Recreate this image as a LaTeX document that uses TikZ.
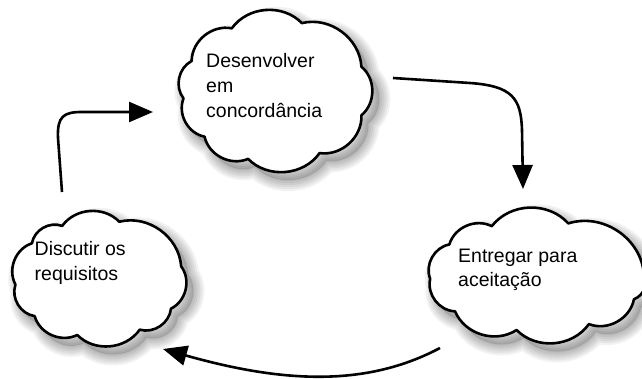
\documentclass[tikz,border=0pt]{standalone}
\usepackage{fontspec}
\setmainfont{Liberation Sans}
\usetikzlibrary{arrows.meta,calc}
\newcommand\cloudcusps[6]{\foreach \ang [count=\i] in {#6}{\coordinate (#1-\i) at ($(#2,#3)+(\ang:#4 and #5)$);}}
\newcommand\cloudpath[1]{(#1-1) to[puff] (#1-2) to[puff] (#1-3) to[puff] (#1-4) to[puff] (#1-5) to[puff] (#1-6) to[puff] (#1-7) to[puff] (#1-8) to[puff] (#1-9) to[puff] (#1-1) -- cycle}
\tikzset{
  puff/.style={bend right=50},
  cloudline/.style={fill=white, draw=black, line width=2.6pt, line join=round},
  shadowline/.style={draw=black, opacity=0.05, line join=round},
  lbl/.style={anchor=base west, inner sep=0pt, font=\fontsize{19.5}{24}\selectfont},
  conn/.style={draw=black, line width=2.6pt, -{Triangle[length=24pt, width=20pt]}},
}
\begin{document}
\begin{tikzpicture}[x=1pt, y=1pt]
\useasboundingbox (0,0) rectangle (642,378);
\fill[white] (0,0) rectangle (642,378);
% cusps of clouds
\cloudcusps{T}{275}{287}{92}{71}{20,73,118,155,186,220,253,299,340}
\cloudcusps{Ts}{282}{279}{92}{71}{20,73,118,155,186,220,253,299,340}
\cloudcusps{L}{99}{99.5}{84}{58.5}{12,76,116,143,186,220,255,299,329}
\cloudcusps{Ls}{106}{91.5}{84}{58.5}{12,76,116,143,186,220,255,299,329}
\cloudcusps{R}{537}{102}{107}{55}{5,73,115,145,183,220,259,299,335}
\cloudcusps{Rs}{544}{94}{107}{55}{5,73,115,145,183,220,259,299,335}
% shadows
\foreach \w in {2,6,10,14,18,22}{
  \draw[shadowline, line width=\w pt] \cloudpath{Ts};
  \draw[shadowline, line width=\w pt] \cloudpath{Ls};
  \draw[shadowline, line width=\w pt] \cloudpath{Rs};
}
\fill[black, opacity=0.12] \cloudpath{Ts};
\fill[black, opacity=0.12] \cloudpath{Ls};
\fill[black, opacity=0.12] \cloudpath{Rs};
% clouds
\draw[cloudline] \cloudpath{T};
\draw[cloudline] \cloudpath{L};
\draw[cloudline] \cloudpath{R};
% texts
\node[lbl] (t1) at (206,310) {Desenvolver};
\node[lbl] (t2) at (206,285) {em};
\node[lbl] (t3) at (206,260.3) {concordância};
\node[lbl] (r1) at (458,115.3) {Entregar para};
\node[lbl] (r2) at (458,91.3) {aceitação};
\node[lbl] (l1) at (34.5,122.3) {Discutir os};
\node[lbl] (l2) at (34.5,98) {requisitos};
% connector end points
\coordinate (a1s) at (62,186);
\coordinate (a1e) at (153,266);
\coordinate (a2s) at (393,300);
\coordinate (a2e) at (523,189);
\coordinate (a3s) at (440,30);
\coordinate (a3e) at (163,29);
% connectors
\draw[conn] (a1s) -- (58,240) .. controls (57,262) and (64,266) .. (82,266) -- (a1e);
\draw[conn] (a2s) -- (470,295) .. controls (512,292) and (521,280) .. (522,248) -- (a2e);
\draw[conn] (a3s) .. controls (370,-7) and (290,-7) .. (a3e);
\end{tikzpicture}
\end{document}
